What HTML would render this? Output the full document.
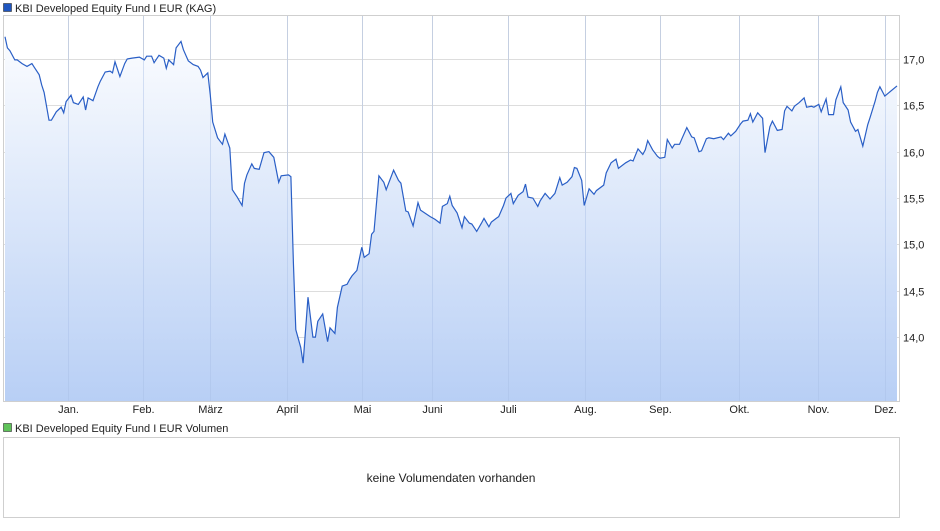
<!DOCTYPE html>
<html><head><meta charset="utf-8"><style>
html,body{margin:0;padding:0;background:#fff;}
body{width:940px;height:526px;overflow:hidden;font-family:"Liberation Sans",Arial,sans-serif;}
svg text{font-family:"Liberation Sans",Arial,sans-serif;}
</style></head><body>
<svg id="chart" width="940" height="526" viewBox="0 0 940 526" xmlns="http://www.w3.org/2000/svg">
<defs>
<linearGradient id="fillGrad" gradientUnits="userSpaceOnUse" x1="0" y1="15" x2="0" y2="401">
<stop offset="0" stop-color="#ffffff"/>
<stop offset="1" stop-color="#b8cff5"/>
</linearGradient>
<clipPath id="plotClip"><rect x="3" y="15" width="896" height="386"/></clipPath>
</defs>
<rect x="3.5" y="3.5" width="8" height="8" fill="#1f56c0" stroke="#333" stroke-width="0.6"/>
<text x="15" y="12" font-size="11" fill="#222">KBI Developed Equity Fund I EUR (KAG)</text>
<g id="grid"></g>
<path id="area" fill="url(#fillGrad)" clip-path="url(#plotClip)"/>
<g id="vgrid"></g>
<path id="line" fill="none" stroke="#2a5fc6" stroke-width="1.2" clip-path="url(#plotClip)"/>
<rect x="3.5" y="15.5" width="896" height="386" fill="none" stroke="#cfcfcf"/>
<g id="ylabels"></g>
<g id="xlabels"></g>
<rect x="3.5" y="423.5" width="8" height="8" fill="#5fc35a" stroke="#333" stroke-width="0.6"/>
<text x="15" y="432" font-size="11" fill="#222">KBI Developed Equity Fund I EUR Volumen</text>
<rect x="3.5" y="437.5" width="896" height="80" fill="#fff" stroke="#cfcfcf"/>
<text x="451" y="482" font-size="12" text-anchor="middle" fill="#222">keine Volumendaten vorhanden</text>
</svg>
<script>
const days=[0,1,2,4,5,7,9,11,12,14,15,16,18,19,21,23,24,25,27,28,30,32,33,34,36,38,39,41,43,44,45,47,49,50,52,55,57,58,60,61,63,65,66,67,69,70,72,73,75,77,79,80,81,83,84,85,87,89,90,92,93,95,97,98,99,101,102,104,106,108,110,112,113,116,117,118,119,121,122,124,126,127,128,130,132,133,135,136,138,140,141,142,144,146,147,149,150,151,153,155,156,159,161,162,164,165,167,169,170,174,176,178,179,181,182,183,185,187,188,190,191,193,195,196,198,199,201,202,204,205,207,208,210,212,213,214,216,218,219,221,223,225,227,228,230,232,233,234,236,237,239,241,242,245,246,248,250,251,254,256,257,259,261,262,263,265,267,268,270,271,273,274,276,277,279,281,282,284,285,287,288,290,293,294,296,297,299,301,302,304,305,306,308,310,311,313,314,316,318,319,320,322,323,325,327,328,330,331,333,334,336,337,339,340,342,343,345,346,348,349,351,353,354,356,357,358,360,365];
const prices=[17.24,17.12,17.09,16.99,16.99,16.95,16.92,16.95,16.91,16.83,16.72,16.64,16.34,16.34,16.43,16.48,16.42,16.54,16.61,16.53,16.51,16.59,16.45,16.58,16.55,16.70,16.76,16.86,16.87,16.85,16.97,16.81,16.95,17.00,17.01,17.02,16.99,17.03,17.03,16.96,17.04,17.01,16.90,16.99,16.94,17.12,17.19,17.10,16.98,16.94,16.92,16.88,16.80,16.85,16.61,16.32,16.15,16.08,16.19,16.04,15.59,15.51,15.42,15.66,15.75,15.87,15.82,15.81,15.99,16.00,15.94,15.67,15.74,15.75,15.73,14.80,14.08,13.89,13.72,14.43,14.00,14.00,14.17,14.25,13.95,14.10,14.04,14.32,14.55,14.57,14.62,14.66,14.72,14.97,14.86,14.90,15.11,15.14,15.74,15.67,15.59,15.80,15.69,15.66,15.36,15.35,15.20,15.45,15.37,15.30,15.27,15.23,15.41,15.44,15.52,15.42,15.34,15.18,15.30,15.23,15.22,15.14,15.23,15.28,15.19,15.24,15.28,15.30,15.42,15.50,15.55,15.44,15.53,15.57,15.65,15.51,15.50,15.41,15.47,15.55,15.49,15.55,15.72,15.64,15.67,15.73,15.83,15.82,15.69,15.42,15.60,15.54,15.58,15.64,15.77,15.88,15.92,15.82,15.88,15.91,15.90,16.03,15.97,16.02,16.12,16.02,15.95,15.93,15.94,16.13,16.04,16.08,16.08,16.14,16.26,16.16,16.15,16.00,16.01,16.14,16.15,16.14,16.16,16.13,16.20,16.17,16.22,16.30,16.33,16.34,16.41,16.32,16.42,16.36,15.99,16.27,16.33,16.23,16.24,16.44,16.49,16.44,16.49,16.53,16.58,16.48,16.49,16.48,16.51,16.43,16.57,16.40,16.40,16.56,16.70,16.53,16.45,16.32,16.22,16.24,16.06,16.29,16.37,16.54,16.64,16.70,16.60,16.71];
const yTicks=[14.0,14.5,15.0,15.5,16.0,16.5,17.0];
const yTickLabels=["14,0","14,5","15,0","15,5","16,0","16,5","17,0"];
const monthDays=[25.8,56.5,83.9,115.4,146.1,174.8,205.9,237.3,268,300.4,332.7,360];
const monthLabels=["Jan.","Feb.","März","April","Mai","Juni","Juli","Aug.","Sep.","Okt.","Nov.","Dez."];

const NS="http://www.w3.org/2000/svg";
const X0=5,X1=897,D0=0,D1=365;
const Y17=59,PXU=92.7;
function xScale(d){return X0+(d-D0)/(D1-D0)*(X1-X0);}
function yScale(v){return Y17+(17-v)*PXU;}
function mk(tag,attrs,parent){const e=document.createElementNS(NS,tag);for(const k in attrs)e.setAttribute(k,attrs[k]);parent.appendChild(e);return e;}

const grid=document.getElementById('grid');
const yl=document.getElementById('ylabels');
yTicks.forEach((v,i)=>{
  const y=Math.round(yScale(v))+0.5;
  const l=mk('line',{x1:3,x2:899,y1:y,y2:y,stroke:'#dddddd','stroke-width':1},grid);
  
  
  const t=mk('text',{x:903,y:y+4,'font-size':11,fill:'#222'},yl);
  
  
  t.textContent=yTickLabels[i];
});
const vg=document.getElementById('vgrid');
const xl=document.getElementById('xlabels');
monthDays.forEach((d,i)=>{
  const x=Math.round(xScale(d))+0.5;
  const l=mk('line',{x1:x,x2:x,y1:15,y2:401,stroke:'#a9bfe6','stroke-opacity':0.45,'stroke-width':1},vg);
  
  
  const l2=mk('line',{x1:x,x2:x,y1:15,y2:401,stroke:'#dddddd','stroke-width':1},grid);
  
  
  const t=mk('text',{x:x,y:413,'font-size':11,fill:'#222','text-anchor':'middle'},xl);
  
  
  t.textContent=monthLabels[i];
});
let p='';
days.forEach((d,i)=>{p+=(i?'L':'M')+xScale(d).toFixed(1)+','+yScale(prices[i]).toFixed(1);});
document.getElementById('line').setAttribute('d',p);
document.getElementById('area').setAttribute('d',p+'L'+xScale(days[days.length-1]).toFixed(1)+',401L'+xScale(days[0]).toFixed(1)+',401Z');
</script>
</body></html>
